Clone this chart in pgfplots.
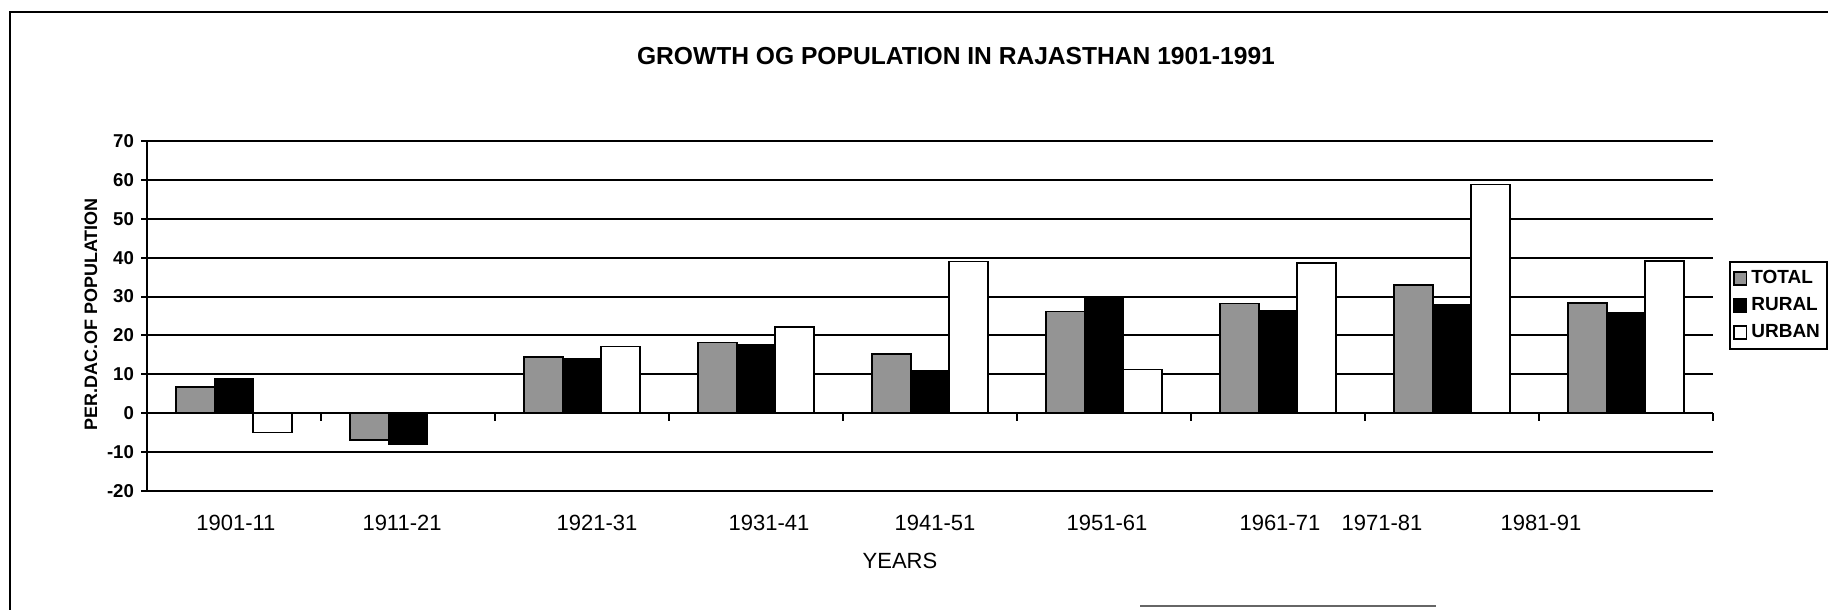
\documentclass[border=0pt]{standalone}
\usepackage{fontspec}
\setmainfont{Liberation Sans}
\usepackage{pgfplots}
\pgfplotsset{compat=1.18}
\pgfplotsset{
  myleg/.style={legend image code/.code={\draw[##1, line width=0.8pt] (0pt,-3.2pt) rectangle (6.4pt,3.2pt);}},
}
\begin{document}
\begin{tikzpicture}
\path[use as bounding box] (0,0) rectangle (914pt,305pt);
\draw[line width=1pt] (5pt,0pt) -- (5pt,299pt) -- (914pt,299pt);
\draw[line width=1pt, black!60] (570pt,2pt) -- (718pt,2pt);
\node[font=\bfseries\fontsize{12.3}{14}\selectfont, anchor=base] at (478pt,272.5pt) {GROWTH OG POPULATION IN RAJASTHAN 1901-1991};
\begin{axis}[
  at={(73.5pt,59.5pt)}, anchor=south west,
  scale only axis, width=783pt, height=175pt,
  xmin=0, xmax=9, ymin=-20, ymax=70,
  ytick={-20,-10,...,70},
  ymajorgrids, grid style={black, line width=1pt},
  axis x line*=bottom, axis y line*=left,
  axis line style={line width=1pt, -},
  xtick={0.511,1.466,2.586,3.575,4.529,5.517,6.511,7.098,8.011},
  xticklabels={1901-11,1911-21,1921-31,1931-41,1941-51,1951-61,1961-71,1971-81,1981-91},
  x tick style={draw=none},
  xticklabel style={font=\fontsize{11}{13}\selectfont, yshift=-5.3pt},
  y tick style={black, line width=1pt},
  tick align=outside, major tick length=3pt,
  yticklabel style={font=\bfseries\fontsize{9.3}{11}\selectfont},
  /pgf/number format/assume math mode=true,
  legend style={at={(1.0102,0.53)}, anchor=west, draw=black, line width=1pt,
    font=\bfseries\fontsize{9.5}{11}\selectfont, row sep=1.5pt, inner xsep=1.5pt, inner ysep=2pt,
    /tikz/every even column/.append style={column sep=0pt}},
  legend cell align=left,
  clip=false,
]
\addplot[ybar, bar width=19.25pt, bar shift=0pt, fill=black!42, draw=black, line width=0.8pt, myleg]
  coordinates {(0.279,6.7) (1.279,-6.9) (2.279,14.4) (3.279,18.2) (4.279,15.2) (5.279,26.2) (6.279,28.2) (7.279,33.0) (8.279,28.4)};
\addlegendentry{TOTAL}
\addplot[ybar, bar width=19.25pt, bar shift=0pt, fill=black, draw=black, line width=0.8pt, myleg]
  coordinates {(0.5,8.8) (1.5,-8.0) (2.5,14.0) (3.5,17.6) (4.5,11.0) (5.5,29.5) (6.5,26.3) (7.5,27.8) (8.5,25.8)};
\addlegendentry{RURAL}
\addplot[ybar, bar width=19.25pt, bar shift=0pt, fill=white, draw=black, line width=0.8pt, myleg]
  coordinates {(0.721,-5.0) (2.721,17.2) (3.721,22.2) (4.721,39.0) (5.721,11.2) (6.721,38.6) (7.721,58.8) (8.721,39.2)};
\addlegendentry{URBAN}
\addplot[black, line width=1pt, forget plot] coordinates {(0,0) (9,0)};
\addplot[ycomb, black, line width=1pt, no marks, forget plot]
  coordinates {(1,-2.1) (2,-2.1) (3,-2.1) (4,-2.1) (5,-2.1) (6,-2.1) (7,-2.1) (8,-2.1) (9,-2.1)};
\end{axis}
\node[anchor=base, font=\fontsize{11}{13}\selectfont] at (450pt,20.5pt) {YEARS};
\node[rotate=90, font=\bfseries\fontsize{9}{11}\selectfont] at (45.5pt,147.75pt) {PER.DAC.OF POPULATION};
\end{tikzpicture}
\end{document}
